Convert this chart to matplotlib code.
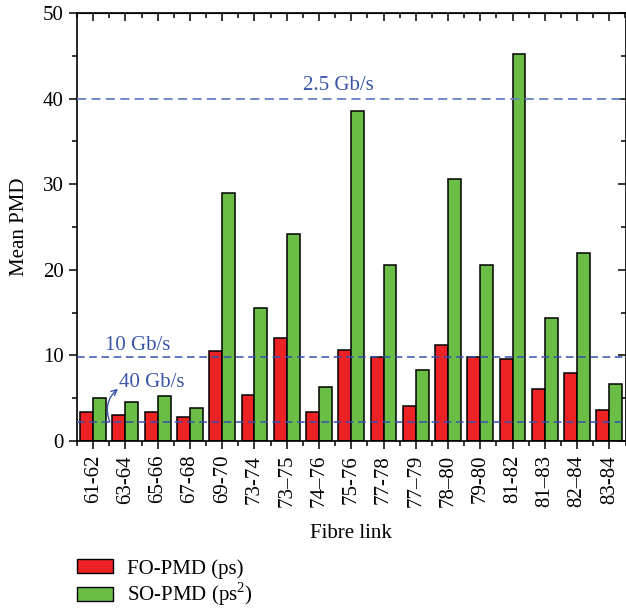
import matplotlib
matplotlib.use("Agg")
import matplotlib.pyplot as plt
import numpy as np
from matplotlib.patches import Patch
from matplotlib.ticker import MultipleLocator, FixedLocator

plt.rcParams['font.family'] = ['Liberation Serif', 'DejaVu Serif']
plt.rcParams['mathtext.fontset'] = 'custom'
plt.rcParams['mathtext.rm'] = 'Liberation Serif'

links = ["61-62", "63-64", "65-66", "67-68", "69-70", "73-74", "73\u201375", "74\u201376",
         "75-76", "77-78", "77\u201379", "78\u201380", "79-80", "81-82", "81\u201383", "82\u201384", "83-84"]
fo_pmd = [3.4, 3.0, 3.4, 2.8, 10.5, 5.4, 12.0, 3.35, 10.6, 9.8, 4.1, 11.25, 9.8, 9.6, 6.1, 8.0, 3.6]
so_pmd = [5.0, 4.6, 5.25, 3.8, 29.0, 15.5, 24.2, 6.35, 38.5, 20.55, 8.3, 30.6, 20.55, 45.2, 14.35, 21.95, 6.7]
thresholds = [40.0, 9.85, 2.2]
threshold_labels = ["2.5 Gb/s", "10 Gb/s", "40 Gb/s"]

red = '#ed2224'
green = '#6cbd45'
blue_light = '#6680c4'
blue_dark = '#3550b0'
text_blue = '#3a55a8'

fig = plt.figure(figsize=(6.26, 6.09), dpi=100)
ax = fig.add_axes([77/626, 1-441/609, (625.5-77)/626, (441-13)/609])

x = np.arange(len(links))
w = 0.4
ax.bar(x - w/2, fo_pmd, width=w, color=red, edgecolor='black', linewidth=1.1, zorder=2)
ax.bar(x + w/2, so_pmd, width=w, color=green, edgecolor='black', linewidth=1.1, zorder=2)

ax.axhline(thresholds[0], color=blue_light, lw=1.3, dashes=(5, 3), zorder=3)
ax.axhline(thresholds[1], color=blue_dark, lw=1.1, dashes=(5, 3), zorder=3)
ax.axhline(thresholds[2], color=blue_dark, lw=1.1, dashes=(5, 3), zorder=3)

ax.text(6.5, 41.5, threshold_labels[0], color=text_blue, fontsize=15, va='center', ha='left')
ax.text(0.37, 11.1, threshold_labels[1], color=text_blue, fontsize=15, va='center', ha='left')
ax.text(0.80, 6.8, threshold_labels[2], color=text_blue, fontsize=15, va='center', ha='left')
ax.annotate('', xy=(0.77, 6.1), xytext=(0.52, 2.2),
            arrowprops=dict(arrowstyle='->', color=text_blue, lw=1.0,
                            connectionstyle='arc3,rad=-0.35', shrinkA=0, shrinkB=0))

ax.set_xlim(-0.5, len(links) - 0.5)
ax.set_ylim(0, 50)
ax.set_xticks(x)
ax.set_xticklabels(links, rotation=90, fontsize=15)
ax.xaxis.set_minor_locator(FixedLocator(np.arange(-0.5, len(links), 1.0)))
ax.yaxis.set_major_locator(MultipleLocator(10))
ax.yaxis.set_minor_locator(MultipleLocator(5))
ax.tick_params(axis='both', which='major', direction='out', length=6, width=1.1, labelsize=15)
ax.tick_params(axis='both', which='minor', direction='out', length=3.5, width=1.1)
ax.tick_params(axis='x', which='major', pad=4)
for s in ax.spines.values():
    s.set_linewidth(1.2)

# mirrored inward ticks on top and right
secx = ax.secondary_xaxis('top')
secx.set_xticks(x)
secx.xaxis.set_minor_locator(FixedLocator(np.arange(-0.5, len(links), 1.0)))
secx.tick_params(axis='x', which='major', direction='in', length=6, width=1.1, labeltop=False)
secx.tick_params(axis='x', which='minor', direction='in', length=3.5, width=1.1)
secy = ax.secondary_yaxis('right')
secy.yaxis.set_major_locator(MultipleLocator(10))
secy.yaxis.set_minor_locator(MultipleLocator(5))
secy.tick_params(axis='y', which='major', direction='in', length=6, width=1.1, labelright=False)
secy.tick_params(axis='y', which='minor', direction='in', length=3.5, width=1.1)

ax.set_ylabel('Mean PMD', fontsize=15, labelpad=10)
ax.set_xlabel('Fibre link', fontsize=15, labelpad=12)

handles = [Patch(facecolor=red, edgecolor='black', linewidth=1.0),
           Patch(facecolor=green, edgecolor='black', linewidth=1.0)]
fig.legend(handles, ['FO-PMD (ps)', 'SO-PMD (ps$^2$)'], loc='upper left',
           bbox_to_anchor=(77/626, 1-559/609), frameon=False, fontsize=15,
           handlelength=1.75, handleheight=0.65, handletextpad=0.65,
           labelspacing=0.1, borderpad=0, borderaxespad=0)

fig.savefig('out.png', dpi=100)
